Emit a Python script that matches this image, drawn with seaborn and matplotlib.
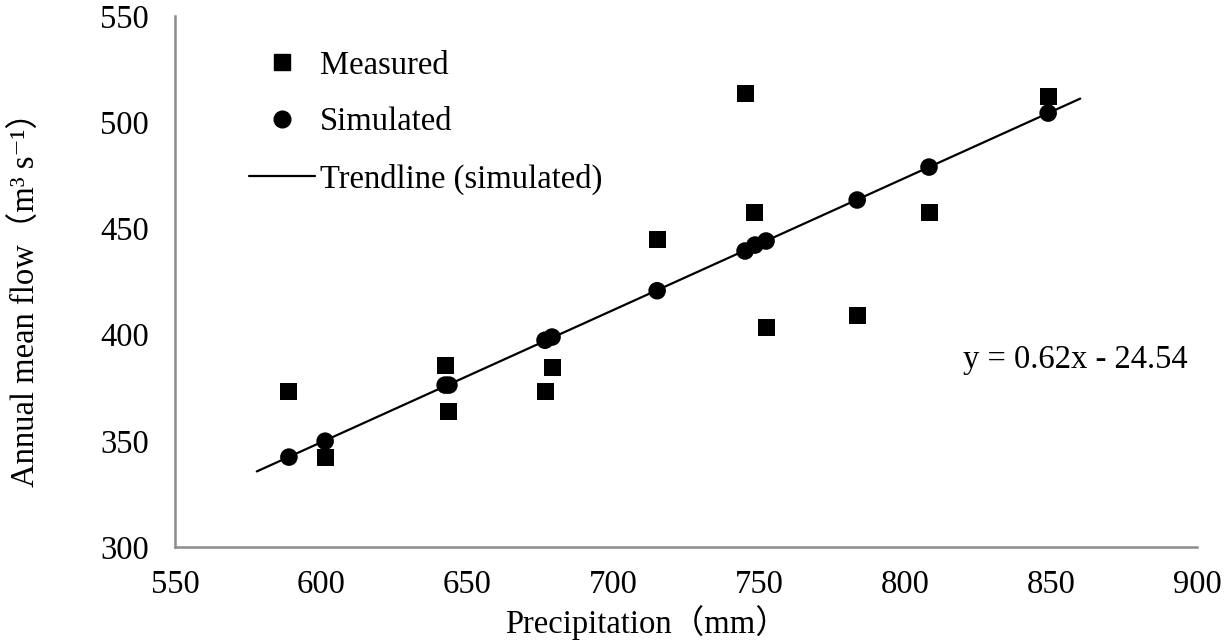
import matplotlib
matplotlib.use("Agg")
import matplotlib.pyplot as plt
import seaborn as sns
import numpy as np
import pandas as pd
from matplotlib.lines import Line2D

# Values
precip = [589.0, 601.4, 642.5, 643.8, 676.7, 679.1, 715.1,
          745.2, 748.6, 752.4, 783.6, 808.2, 849.0]
measured = [373.4, 342.4, 385.7, 364.0, 373.4, 384.7, 445.0,
            513.7, 457.3, 403.6, 409.2, 457.3, 511.9]
simulated = [342.4, 349.9, 376.3, 376.3, 397.4, 398.9, 420.7,
             439.4, 442.2, 444.1, 463.4, 478.9, 504.3]
x_ticks = [550, 600, 650, 700, 750, 800, 850, 900]
y_ticks = [300, 350, 400, 450, 500, 550]

df = pd.DataFrame({"precip": precip, "measured": measured, "simulated": simulated})

sns.set_theme(style="white")
plt.rcParams['font.family'] = ['Liberation Serif', 'DejaVu Serif', 'Noto Sans CJK SC']
plt.rcParams['text.color'] = 'black'
plt.rcParams['axes.labelcolor'] = 'black'
plt.rcParams['xtick.color'] = 'black'
plt.rcParams['ytick.color'] = 'black'

FS = 23.5

fig = plt.figure(figsize=(12.24, 6.4), dpi=100)
ax = fig.add_axes([0.143, 0.145, 0.835, 0.830])

sns.scatterplot(data=df, x="precip", y="measured", marker="s", s=150,
                color="black", edgecolor="none", ax=ax, zorder=3)
sns.scatterplot(data=df, x="precip", y="simulated", marker="o", s=160,
                color="black", edgecolor="none", ax=ax, zorder=3)

# linear trend of simulated values
slope, intercept = np.polyfit(df["precip"], df["simulated"], 1)
xs = np.array([df["precip"].min() - 11, df["precip"].max() + 11])
ax.plot(xs, slope * xs + intercept, color="black", lw=1.6, zorder=2)

ax.set_xlim(550, 900)
ax.set_ylim(300, 550)
ax.set_xticks(x_ticks)
ax.set_yticks(y_ticks)
ax.tick_params(axis="both", direction="in", length=7, width=1.5,
               color="#8c8c8c", labelcolor="black", labelsize=FS)
ax.tick_params(axis="y", pad=19)
ax.tick_params(axis="x", pad=16)

for side in ["top", "right"]:
    ax.spines[side].set_visible(False)
for side in ["left", "bottom"]:
    ax.spines[side].set_color("#8c8c8c")
    ax.spines[side].set_linewidth(1.8)

ax.set_xlabel("Precipitation\uff08mm\uff09", fontsize=FS,
              family=['Liberation Serif', 'Noto Sans CJK SC'])
ax.set_ylabel("Annual mean flow\uff08m\u00b3 s\u207b\u00b9\uff09", fontsize=FS,
              family=['Liberation Serif', 'DejaVu Serif', 'Noto Sans CJK SC'])
ax.xaxis.set_label_coords(0.461, -0.108)
ax.yaxis.set_label_coords(-0.130, 0.482)

ax.text(0.771, 0.352, "y = 0.62x - 24.54", transform=ax.transAxes,
        fontsize=FS, va="center", ha="left")

handles = [
    Line2D([], [], marker="s", color="black", ls="none", markersize=11),
    Line2D([], [], marker="o", color="black", ls="none", markersize=12),
    Line2D([], [], color="black", lw=1.6),
]
labels = ["Measured", "Simulated", "Trendline (simulated)"]
ax.legend(handles, labels, loc="upper left", bbox_to_anchor=(0.060, 0.96),
          frameon=False, fontsize=FS, handlelength=2.0, handletextpad=0.15,
          labelspacing=0.8, borderaxespad=0)

fig.savefig("out.png", dpi=100)
